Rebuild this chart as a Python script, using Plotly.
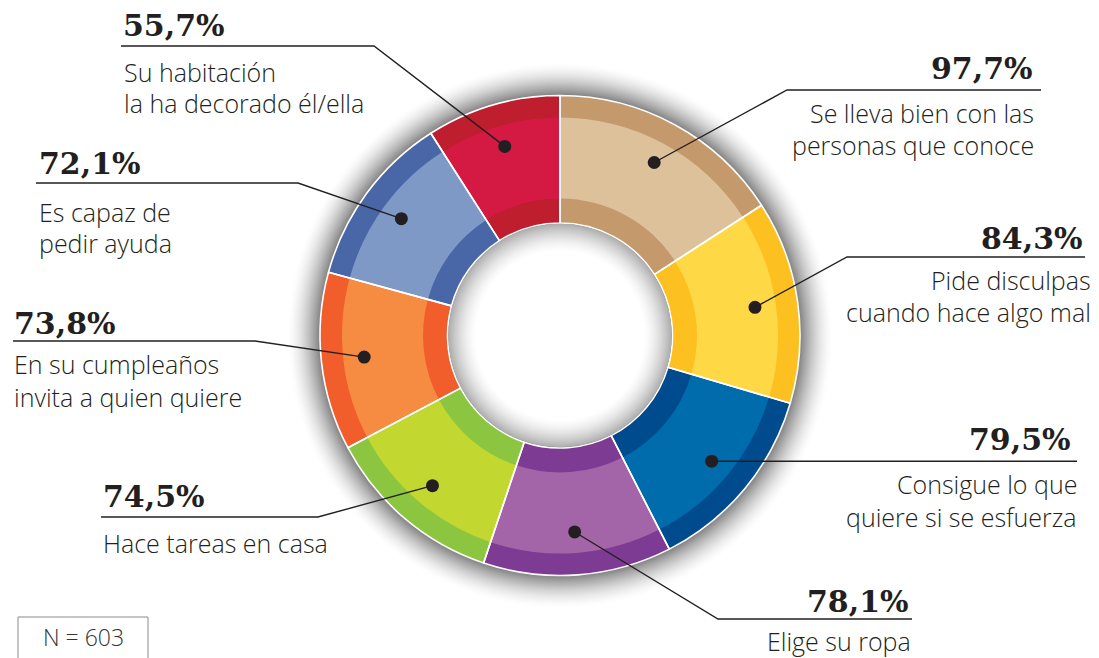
import numpy as np
import plotly.graph_objects as go

# ---------------- data ----------------
categories = [
    "Se lleva bien con las personas que conoce",
    "Pide disculpas cuando hace algo mal",
    "Consigue lo que quiere si se esfuerza",
    "Elige su ropa",
    "Hace tareas en casa",
    "En su cumpleaños invita a quien quiere",
    "Es capaz de pedir ayuda",
    "Su habitación la ha decorado él/ella",
]
values = [97.7, 84.3, 79.5, 78.1, 74.5, 73.8, 72.1, 55.7]
desc_lines = [
    ["Se lleva bien con las", "personas que conoce"],
    ["Pide disculpas", "cuando hace algo mal"],
    ["Consigue lo que", "quiere si se esfuerza"],
    ["Elige su ropa"],
    ["Hace tareas en casa"],
    ["En su cumpleaños", "invita a quien quiere"],
    ["Es capaz de", "pedir ayuda"],
    ["Su habitación", "la ha decorado él/ella"],
]
light_colors = ["#DCC19B", "#FFD846", "#006CAB", "#A465A8", "#C2D72F", "#F68B42", "#7F99C7", "#D41A43"]
dark_colors = ["#C4996B", "#FDC021", "#004A8E", "#7E3B94", "#8CC540", "#F15E2B", "#4967A7", "#BE1E2D"]
sample_note = "N = 603"

pct_labels = [f"{v:.1f}".replace(".", ",") + "%" for v in values]

# ---------------- geometry / layout (pixels) ----------------
W, H = 1099, 658
OFF = 8  # page body margin
CX, CY = 560, 335.5
R_OUT, R_BAND_OUT, R_BAND_IN, R_HOLE = 240, 218, 137, 112.5
R_DOT = 197

# label placement: side, pct text x, pct centre y, underline y, elbow x, far x, desc x, desc first y, desc spacing
label_pos = [
    ("right", 1035, 68, 90, 787, 1041, 1036, 113, 32),
    ("right", 1085, 238, 257, 847, 1085, 1093, 280, 32),
    ("right", 1073, 439, 462, None, 1077, 1079, 484, 33),
    ("right", 911, 601, 619, 718, 912, 913, 641, 32),
    ("left", 101, 496, 517, 318, 101, 101, 543, 32),
    ("left", 12, 323, 341, 255, 13, 12, 364, 33),
    ("left", 37, 163, 183, 298, 36, 37, 212, 31),
    ("left", 121, 25, 46, 374, 121, 122, 72, 31),
]


def dom(r):
    cx, cy = CX - OFF, CY - OFF
    return dict(x=[(cx - r) / W, (cx + r) / W], y=[(H - cy - r) / H, (H - cy + r) / H])


fig = go.Figure()

common = dict(labels=categories, values=values, sort=False, direction="clockwise",
              rotation=0, textinfo="none", hoverinfo="skip", showlegend=False)

fig.add_trace(go.Pie(domain=dom(R_OUT), hole=R_HOLE / R_OUT,
                     marker=dict(colors=dark_colors, line=dict(width=0)), **common))
fig.add_trace(go.Pie(domain=dom(R_BAND_OUT), hole=R_BAND_IN / R_BAND_OUT,
                     marker=dict(colors=light_colors, line=dict(width=0)), **common))
fig.add_trace(go.Pie(domain=dom(R_OUT), hole=R_HOLE / R_OUT,
                     marker=dict(colors=["rgba(0,0,0,0)"] * len(values),
                                 line=dict(color="white", width=1.6)), **common))

# invisible cartesian trace to establish the pixel axes
fig.add_trace(go.Scatter(x=[None], y=[None], showlegend=False, hoverinfo="skip"))

shapes = []
# outer shadow (below)
for r in np.arange(274, 239.5, -1.0):
    t = (r - 240) / 34
    g = int(round(255 - 130 * (1 - t) ** 1.7))
    shapes.append(dict(type="circle", xref="x", yref="y", layer="below",
                       x0=CX - r, x1=CX + r, y0=CY - r, y1=CY + r,
                       fillcolor=f"rgb({g},{g},{g})", line=dict(width=0)))
# hole inner shadow (above)
for r in np.arange(111.7, 83, -1.0):
    t = (111.7 - r) / 28
    g = int(round(255 - 80 * (1 - t) ** 1.6))
    shapes.append(dict(type="circle", xref="x", yref="y", layer="above",
                       x0=CX - r, x1=CX + r, y0=CY - r, y1=CY + r,
                       fillcolor=f"rgb({g},{g},{g})", line=dict(width=0)))
shapes.append(dict(type="circle", xref="x", yref="y", layer="above",
                   x0=CX - 83, x1=CX + 83, y0=CY - 83, y1=CY + 83,
                   fillcolor="white", line=dict(width=0)))

# dot positions from the values (mid-angle of each slice)
total = sum(values)
cum = np.cumsum([0] + values[:-1])
mid_angles = [(c + v / 2) / total * 2 * np.pi for c, v in zip(cum, values)]
dots = [(CX + R_DOT * np.sin(a), CY - R_DOT * np.cos(a)) for a in mid_angles]

annotations = []
INK = "#231f20"
for i, (dx, dy) in enumerate(dots):
    side, px, py, ly, ex, fx, tx, ty, sp = label_pos[i]
    if ex is None:
        path = f"M {dx:.1f},{dy:.1f} L {fx},{dy:.1f}"
    else:
        path = f"M {dx:.1f},{dy:.1f} L {ex},{ly} L {fx},{ly}"
    shapes.append(dict(type="path", xref="x", yref="y", layer="above", path=path,
                       line=dict(color=INK, width=1.4)))
    shapes.append(dict(type="circle", xref="x", yref="y", layer="above",
                       x0=dx - 6.5, x1=dx + 6.5, y0=dy - 6.5, y1=dy + 6.5,
                       fillcolor=INK, line=dict(width=0)))
    annotations.append(dict(x=px, y=py, xref="x", yref="y", text=pct_labels[i],
                            xanchor=side, yanchor="middle", showarrow=False,
                            font=dict(family="DejaVu Serif", size=30, color=INK, weight=900)))
    for j, line in enumerate(desc_lines[i]):
        annotations.append(dict(x=tx, y=ty + j * sp, xref="x", yref="y", text=line,
                                xanchor=side, yanchor="middle", showarrow=False,
                                font=dict(family="Open Sans", size=25, color=INK, weight=300)))

# N box
shapes.append(dict(type="rect", xref="x", yref="y", layer="above",
                   x0=18, x1=148, y0=617, y1=690, line=dict(color="#8a8a8a", width=1)))
annotations.append(dict(x=83, y=637, xref="x", yref="y", text=sample_note,
                        xanchor="center", yanchor="middle", showarrow=False,
                        font=dict(family="Open Sans", size=23, color="#333333", weight=300)))

fig.update_layout(
    width=W, height=H, margin=dict(l=0, r=0, t=0, b=0),
    paper_bgcolor="white", plot_bgcolor="white",
    xaxis=dict(range=[OFF, W + OFF], visible=False, fixedrange=True, domain=[0, 1]),
    yaxis=dict(range=[H + OFF, OFF], visible=False, fixedrange=True, domain=[0, 1]),
    shapes=shapes, annotations=annotations,
)

fig.write_html("out.html")
